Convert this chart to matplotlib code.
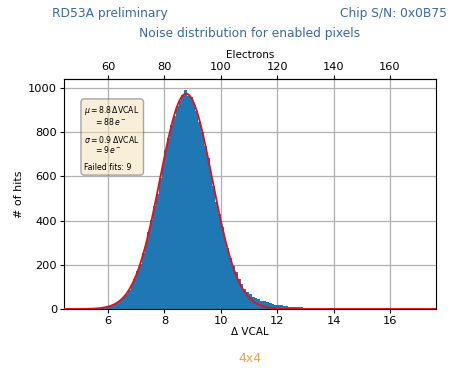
import numpy as np
import matplotlib
matplotlib.use('Agg')
import matplotlib.pyplot as plt

# noise histogram, 0.1 DeltaVCAL bins starting at 5.5
bin_start = 5.5
bin_width = 0.1
counts = [
    2, 3, 4, 6, 9, 12, 16, 23, 31, 40,            # 5.5 - 6.5
    54, 70, 86, 112, 136, 171, 205, 252, 292, 350,  # 6.5 - 7.5
    402, 468, 522, 594, 650, 722, 774, 834, 875, 921,  # 7.5 - 8.5
    944, 968, 990, 966, 960, 928, 898, 846, 803, 738,  # 8.5 - 9.5
    684, 612, 556, 486, 432, 372, 322, 274, 232, 196,  # 9.5 - 10.5
    166, 138, 112, 92, 78, 66, 56, 49, 43, 38,      # 10.5 - 11.5
    34, 30, 26, 22, 19, 20, 16, 14, 12, 11,         # 11.5 - 12.5
    9, 8, 7, 7, 6, 5, 5, 4, 3, 3,                   # 12.5 - 13.5
    3, 2, 2, 2, 1, 2, 1, 1, 1, 1,                   # 13.5 - 14.5
    1, 1, 0, 1, 1, 0, 1, 0, 0, 1,                   # 14.5 - 15.5
]

# gaussian fit parameters
fit_mu = 8.77
fit_sigma = 0.92
fit_amp = 975.0
electron_conv = 10.0  # electrons per DeltaVCAL

failed_fits = 9

edges = bin_start + bin_width * np.arange(len(counts) + 1)

fig = plt.figure(figsize=(4.52, 3.72), dpi=100)
ax = fig.add_axes([0.1416, 0.1694, 0.823, 0.618])

ax.stairs(counts, edges, fill=True, color='#1f77b4', zorder=2)

xs = np.linspace(4.45, 17.6, 600)
ax.plot(xs, fit_amp * np.exp(-(xs - fit_mu) ** 2 / (2 * fit_sigma ** 2)),
        color='#e0151b', lw=1.4, zorder=3)

ax.set_xlim(4.44, 17.63)
ax.set_ylim(0, 1041)
ax.set_xticks([6, 8, 10, 12, 14, 16])
ax.set_yticks([0, 200, 400, 600, 800, 1000])
ax.grid(True, color='#b0b0b0', lw=0.9, zorder=1)
ax.set_axisbelow(True)
ax.tick_params(labelsize=8.2, length=3, pad=2)
ax.set_xlabel('Δ VCAL', fontsize=7.5, labelpad=1)
ax.set_ylabel('# of hits', fontsize=8, labelpad=3)

top = ax.secondary_xaxis('top', functions=(lambda v: v * electron_conv,
                                           lambda v: v / electron_conv))
top.set_xticks([60, 80, 100, 120, 140, 160])
top.tick_params(labelsize=8.2, length=3, pad=2)
top.set_xlabel('Electrons', fontsize=7.5, labelpad=3)

info = ('$\\mu = %.1f\\,\\Delta$VCAL\n    $= %d\\,e^-$\n\n'
        '$\\sigma = %.1f\\,\\Delta$VCAL\n    $= %d\\,e^-$\n\n'
        'Failed fits: %d') % (8.8, 88, 0.9, 9, failed_fits)
ax.text(0.055, 0.89, info, transform=ax.transAxes, fontsize=5.6, va='top',
        linespacing=0.88,
        bbox=dict(boxstyle='round,pad=0.45', facecolor='wheat', alpha=0.5,
                  edgecolor='#555555'))

blue = '#3a68a8'
fig.text(110 / 452, 1 - 14 / 372, 'RD53A preliminary', color=blue,
         fontsize=8.8, ha='center', va='center')
fig.text(447 / 452, 1 - 14 / 372, 'Chip S/N: 0x0B75', color=blue,
         fontsize=8.8, ha='right', va='center')
fig.text(250 / 452, 1 - 33 / 372, 'Noise distribution for enabled pixels',
         color=blue, fontsize=8.8, ha='center', va='center')
fig.text(250 / 452, 1 - 359 / 372, '4x4', color='#f0a050', fontsize=9,
         ha='center', va='center')

fig.savefig('out.png', dpi=100)
